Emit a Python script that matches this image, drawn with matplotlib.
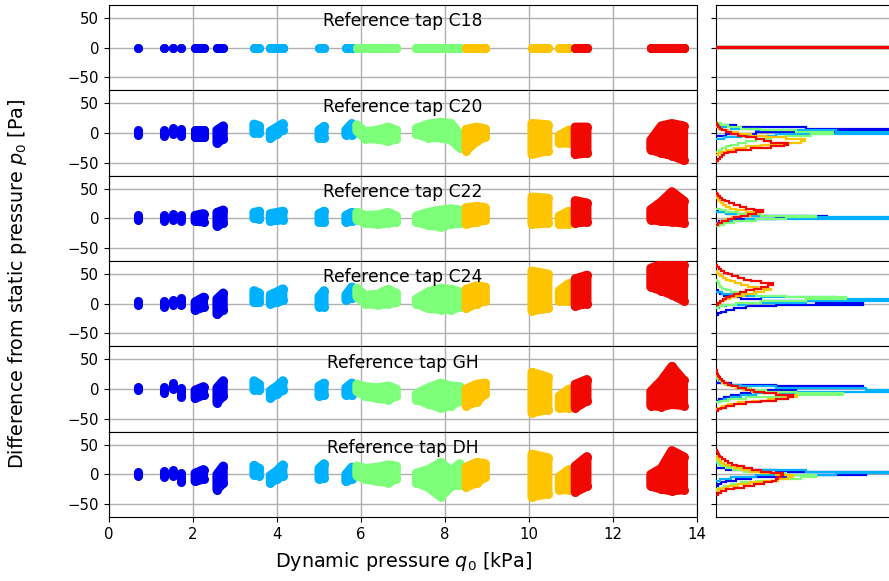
import numpy as np
import matplotlib
matplotlib.use("Agg")
import matplotlib.pyplot as plt

# Reference taps, one row each
taps = ["C18", "C20", "C22", "C24", "GH", "DH"]

# Five test groups, coloured along the jet colormap
group_colors = plt.cm.jet(np.linspace(0.1, 0.9, 5))

# Each blob is a run of samples from one group; columns of dynamic pressure [kPa]
blob_group = [0, 0, 0, 0, 0, 0, 1, 1, 1, 1, 2, 2, 3, 3, 3, 4, 4]
blob_q = [
    [0.69], [1.30], [1.52], [1.71], [2.05, 2.25], [2.57, 2.72],
    [3.45, 3.58], [3.84, 4.00, 4.14], [5.00, 5.12], [5.64, 5.78],
    [5.90, 6.10, 6.40, 6.65, 6.84], [7.32, 7.60, 7.90, 8.15, 8.35],
    [8.50, 8.75, 8.96], [10.07, 10.45], [10.72, 10.95],
    [11.10, 11.38], [12.90, 13.15, 13.40, 13.68],
]

# Lower / upper pressure difference [Pa] of every blob column, per tap
lo_C18 = [[0] * len(q) for q in blob_q]
hi_C18 = [[0] * len(q) for q in blob_q]

lo_C20 = [[-3], [-5], [-2], [-5], [-7, -7], [-17, -10], [0, 0], [-9, -1, 5], [-9, -9], [-3, -3],
          [4, -10, -10, -14, -10], [-2, -8, -8, -12, -25], [-30, -14, -6], [-36, -30], [-17, -17],
          [-36, -34], [-28, -34, -38, -46]]
hi_C20 = [[5], [5], [8], [6], [5, 5], [5, 12], [15, 12], [3, 10, 16], [5, 11], [5, 16],
          [14, 2, 5, 10, 5], [8, 15, 18, 16, -2], [6, 10, 7], [16, 14], [-4, 5],
          [10, 10], [-12, 12, 16, 12]]

lo_C22 = [[-2], [-5], [-3], [-5], [-5, -6], [-13, -8], [0, -1], [-5, -3, -2], [-7, -7], [-6, -5],
          [-2, -8, -10, -8, -6], [-6, -12, -14, -10, -8], [-10, -6, -3], [-10, -8], [-10, -10],
          [-8, -6], [-2, -5, -6, -8]]
hi_C22 = [[5], [5], [7], [5], [5, 8], [10, 14], [10, 12], [8, 10, 12], [8, 12], [5, 10],
          [10, 5, 6, 10, 4], [4, 10, 14, 16, 14], [18, 20, 18], [36, 34], [4, 12],
          [30, 26], [15, 28, 45, 30]]

lo_C24 = [[-2], [-5], [-2], [-2], [-11, -6], [-18, -10], [2, 2], [0, 2, 6], [-5, -5], [6, 10],
          [12, 0, -2, 0, 2], [0, -8, -10, -10, -6], [-8, 0, 5], [-12, -8], [4, 4],
          [-4, 0], [28, 22, 15, 5]]
hi_C24 = [[4], [5], [7], [9], [3, 11], [8, 18], [22, 18], [15, 20, 25], [12, 22], [15, 28],
          [26, 14, 16, 24, 18], [8, 20, 26, 24, 20], [24, 30, 28], [55, 50], [22, 34],
          [42, 48], [60, 66, 68, 66]]

lo_GH = [[-2], [-6], [0], [-13], [-16, -10], [-23, -12], [-1, -2], [-15, -8, -2], [-12, -10], [-10, -10],
         [-4, -12, -16, -18, -12], [-18, -25, -32, -28, -20], [-28, -22, -8], [-40, -35], [-32, -32],
         [-32, -20], [-28, -30, -26, -28]]
hi_GH = [[4], [4], [10], [1], [-2, 4], [2, 14], [14, 8], [-3, 5, 14], [5, 10], [2, 10],
         [8, 4, 2, 5, 0], [-8, 2, 10, 5, 4], [0, 8, 10], [28, 20], [-12, 0],
         [8, 16], [-4, 14, 38, 15]]

lo_DH = [[-2], [-5], [-2], [-13], [-12, -8], [-26, -15], [-1, -2], [-14, -8, -2], [-8, -6], [-12, -8],
         [-2, -8, -12, -14, -8], [-14, -22, -38, -20, -18], [-22, -14, -5], [-38, -33], [-26, -26],
         [-30, -20], [-20, -25, -28, -26]]
hi_DH = [[4], [5], [8], [2], [2, 8], [0, 14], [15, 10], [-2, 6, 16], [10, 18], [0, 12],
         [14, 10, 12, 16, 14], [2, 8, 20, 6, 18], [12, 20, 18], [34, 28], [-4, 8],
         [14, 30], [0, 10, 40, 30]]

tap_lo = [lo_C18, lo_C20, lo_C22, lo_C24, lo_GH, lo_DH]
tap_hi = [hi_C18, hi_C20, hi_C22, hi_C24, hi_GH, hi_DH]

# Histograms of the pressure difference: (centre of first bin, counts) per group
tap_bin_width = [1.0, 3.0, 3.0, 3.0, 3.0, 3.0]
hist_C18 = [(0, [400]), (0, [400]), (0, [400]), (0, [400]), (0, [400])]
hist_C20 = [
    (-3, [10, 40, 120, 260, 90, 20]),
    (-9, [8, 25, 60, 230, 120, 40, 15, 5]),
    (-30, [3, 6, 10, 15, 22, 30, 40, 55, 70, 95, 117, 80, 45, 25, 12, 5]),
    (-36, [2, 5, 10, 18, 30, 45, 65, 85, 89, 70, 50, 35, 22, 12, 6, 3, 1]),
    (-45, [2, 4, 6, 8, 12, 20, 35, 55, 68, 72, 55, 48, 40, 30, 22, 15, 10, 6, 4, 2, 1]),
]
hist_C22 = [
    (-6, [3, 15, 60, 111, 40, 12, 3]),
    (-6, [6, 30, 240, 90, 30, 10]),
    (-12, [3, 8, 18, 40, 70, 100, 45, 22, 10, 4]),
    (-9, [2, 5, 10, 16, 24, 34, 42, 30, 20, 14, 10, 7, 5, 3, 2, 1]),
    (-9, [2, 6, 12, 18, 25, 32, 40, 47, 38, 30, 24, 18, 13, 9, 6, 4, 2, 1]),
]
hist_C24 = [
    (-18, [2, 5, 10, 18, 30, 60, 147, 100, 45, 25, 14, 8, 4, 2]),
    (-6, [3, 10, 30, 90, 220, 120, 45, 18, 6]),
    (-6, [2, 8, 20, 45, 90, 130, 70, 40, 24, 15, 10, 6, 4, 3, 2, 1]),
    (0, [2, 5, 9, 14, 20, 28, 38, 48, 55, 42, 32, 25, 19, 14, 10, 7, 4, 2, 1]),
    (0, [2, 4, 7, 10, 14, 18, 24, 30, 38, 45, 52, 57, 45, 35, 28, 22, 16, 12, 8, 5, 3, 1]),
]
hist_GH = [
    (-18, [3, 8, 15, 25, 35, 50, 80, 147, 60, 15]),
    (-21, [3, 8, 15, 25, 40, 80, 230, 150, 60, 25, 12, 6, 3]),
    (-21, [5, 12, 30, 70, 127, 80, 50, 35, 22, 14, 9, 6, 4, 2, 1]),
    (-33, [2, 6, 12, 22, 36, 52, 68, 81, 62, 48, 36, 27, 20, 14, 10, 7, 5, 3, 2, 1]),
    (-36, [2, 5, 10, 18, 30, 45, 60, 72, 77, 60, 48, 38, 30, 22, 16, 12, 8, 6, 4, 3, 2, 1, 1]),
]
hist_DH = [
    (-18, [2, 5, 10, 20, 35, 70, 150, 240, 60, 10]),
    (-9, [4, 15, 40, 120, 240, 90, 35, 15, 6, 3]),
    (-24, [3, 8, 15, 25, 40, 60, 85, 100, 70, 45, 28, 17, 10, 6, 3, 2, 1]),
    (-27, [2, 6, 12, 22, 34, 48, 62, 72, 77, 60, 45, 34, 25, 18, 12, 8, 5, 3, 2, 1]),
    (-33, [2, 5, 10, 18, 28, 38, 48, 56, 60, 62, 65, 67, 55, 45, 36, 28, 21, 16, 12, 9, 6, 4, 3, 2, 1]),
]
tap_hist = [hist_C18, hist_C20, hist_C22, hist_C24, hist_GH, hist_DH]

x_ticks = [0, 2, 4, 6, 8, 10, 12, 14]
y_ticks = [-50, 0, 50]

# ---------------------------------------------------------------------------
W, H = 889, 581
fig = plt.figure(figsize=(W / 100, H / 100), dpi=100)

dot_pt = 6.5          # diameter of a sample dot in points
row_top, row_h = 5.0, 85.33
grid_kw = dict(color="#b0b0b0", linewidth=1.0)

for i, tap in enumerate(taps):
    top = row_top + i * row_h
    y0 = 1 - (top + row_h) / H
    ax = fig.add_axes([109 / W, y0, 588 / W, row_h / H])
    axh = fig.add_axes([716 / W, y0, 190 / W, row_h / H])

    # scatter blobs
    for b, qs in enumerate(blob_q):
        c = group_colors[blob_group[b]]
        lo = tap_lo[i][b]
        hi = tap_hi[i][b]
        xs = list(qs) + list(qs[::-1])
        ys = list(hi) + list(lo[::-1])
        ax.fill(xs, ys, color=c, linewidth=dot_pt, joinstyle="round", zorder=3 + blob_group[b])
        ax.scatter(list(qs) * 2, list(lo) + list(hi), s=dot_pt ** 2, color=c,
                   linewidths=0, zorder=3 + blob_group[b])

    ax.set_xlim(0, 14)
    ax.set_ylim(-72, 72)
    ax.set_xticks(x_ticks)
    ax.set_yticks(y_ticks)
    ax.grid(True, **grid_kw)
    ax.set_axisbelow(True)
    ax.tick_params(labelsize=10.7)
    if i < len(taps) - 1:
        ax.tick_params(axis="x", labelbottom=False, length=0)
    else:
        ax.set_xlabel("Dynamic pressure $q_0$ [kPa]", fontsize=13.8, labelpad=6)
    ax.text(0.5, 0.81, f"Reference tap {tap}", transform=ax.transAxes,
            ha="center", va="center", fontsize=12.3, zorder=10)

    # histograms
    bw = tap_bin_width[i]
    for g, (c0, counts) in enumerate(tap_hist[i]):
        edges = c0 - bw / 2 + bw * np.arange(len(counts) + 1)
        axh.stairs(counts, edges, orientation="horizontal", baseline=0,
                   color=group_colors[g], linewidth=1.6, zorder=3 + g)
    axh.set_xlim(0, 190)
    axh.set_ylim(-72, 72)
    axh.set_yticks(y_ticks)
    axh.set_xticks([])
    axh.tick_params(axis="y", labelleft=False)
    axh.grid(True, axis="y", **grid_kw)
    axh.set_axisbelow(True)

fig.text(18 / W, 1 - 284 / H, "Difference from static pressure $p_0$ [Pa]",
         rotation=90, ha="center", va="center", fontsize=13.8)

fig.savefig("out.png", dpi=100)
